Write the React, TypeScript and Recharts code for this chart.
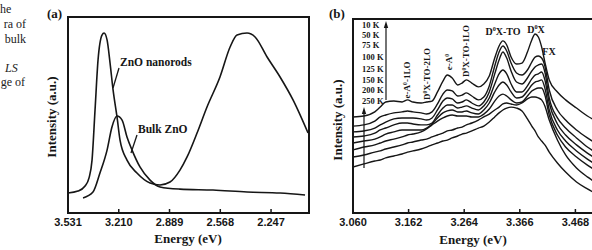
import { LineChart, Line, XAxis, YAxis, ReferenceArea } from "recharts"

// (a) room-temperature PL: nanorods vs bulk
const nanorodEnergy = [3.531, 3.468, 3.423, 3.398, 3.379, 3.36, 3.341, 3.316, 3.303, 3.284, 3.265, 3.246, 3.221, 3.202, 3.158, 3.095, 3.012, 2.949, 2.886, 2.823, 2.778, 2.715, 2.652, 2.57, 2.506, 2.462, 2.399, 2.348, 2.272, 2.19, 2.108, 2.013]
const nanorodIntensity = [10.2, 11.2, 13.8, 17.9, 27.0, 52.6, 78.1, 90.8, 91.8, 88.3, 76.5, 62.8, 49.0, 37.2, 27.0, 20.4, 15.3, 14.3, 15.8, 21.9, 28.6, 40.8, 54.1, 69.4, 84.7, 90.8, 91.8, 89.8, 79.6, 69.4, 57.7, 40.8]
const bulkEnergy = [3.436, 3.373, 3.329, 3.284, 3.253, 3.221, 3.189, 3.158, 3.126, 3.076, 3.012, 2.949, 2.823, 2.614, 2.399, 2.19, 2.032]
const bulkIntensity = [7.7, 10.7, 20.4, 32.1, 43.9, 49.5, 47.4, 38.8, 32.1, 23.5, 16.8, 13.3, 12.2, 11.7, 10.7, 10.2, 9.2]
const ticksA = [3.531, 3.21, 2.889, 2.568, 2.247]

// (b) temperature-dependent PL, 10 K .. 250 K
const energyB = [3.06, 3.08, 3.1, 3.11, 3.12, 3.135, 3.15, 3.16, 3.17, 3.185, 3.195, 3.205, 3.215, 3.225, 3.233, 3.242, 3.252, 3.26, 3.268, 3.278, 3.29, 3.3, 3.31, 3.32, 3.328, 3.335, 3.342, 3.35, 3.36, 3.37, 3.38, 3.388, 3.394, 3.4, 3.406, 3.412, 3.42, 3.435, 3.45, 3.47, 3.49, 3.51]
const pl10K = [49.5, 50.0, 52.1, 54.6, 57.2, 57.7, 57.2, 58.3, 57.2, 56.7, 57.2, 57.7, 62.4, 68.0, 71.1, 69.6, 66.0, 67.0, 68.6, 67.0, 65.0, 66.5, 70.6, 79.9, 86.1, 88.7, 86.6, 80.4, 76.8, 77.3, 83.0, 89.2, 92.3, 90.7, 85.6, 77.8, 68.6, 62.4, 58.3, 54.1, 50.0, 46.9]
const pl50K = [44.8, 45.4, 47.4, 49.5, 50.5, 51.6, 52.1, 52.6, 52.1, 51.6, 51.0, 52.1, 56.2, 61.3, 63.4, 62.9, 60.3, 60.8, 61.9, 60.3, 58.3, 59.8, 65.5, 75.8, 83.0, 86.1, 83.5, 77.3, 72.2, 71.1, 73.7, 77.8, 80.4, 80.9, 79.9, 75.8, 63.4, 53.1, 47.9, 42.8, 38.7, 35.1]
const pl75K = [41.8, 42.3, 43.8, 45.4, 46.9, 48.5, 49.0, 49.0, 49.0, 48.5, 47.9, 49.0, 53.1, 57.7, 59.3, 58.8, 56.7, 57.2, 58.3, 56.7, 55.2, 57.2, 62.4, 71.7, 78.9, 83.0, 79.9, 73.2, 67.5, 66.5, 69.6, 73.2, 75.3, 76.3, 76.8, 72.7, 59.3, 49.0, 43.8, 38.7, 34.0, 30.4]
const pl100K = [39.2, 39.7, 41.2, 42.8, 43.8, 45.4, 46.4, 46.4, 45.9, 45.4, 45.4, 46.4, 50.5, 54.1, 55.7, 55.7, 54.1, 54.6, 55.2, 54.1, 53.1, 55.2, 59.3, 66.5, 71.7, 73.7, 71.7, 66.5, 62.4, 62.4, 65.5, 69.1, 71.1, 71.7, 72.7, 68.6, 56.7, 45.9, 40.2, 35.1, 30.9, 27.3]
const pl125K = [36.1, 37.1, 38.1, 39.2, 40.7, 41.8, 42.8, 42.8, 42.8, 42.8, 43.8, 45.9, 49.0, 51.6, 52.6, 53.1, 52.1, 52.1, 52.6, 51.6, 51.0, 53.1, 56.7, 62.4, 66.0, 67.5, 66.0, 62.4, 59.3, 59.8, 62.9, 66.0, 67.5, 68.0, 68.6, 64.4, 53.1, 42.8, 37.1, 32.0, 27.8, 24.2]
const pl150K = [32.5, 34.0, 35.1, 36.1, 37.1, 38.1, 39.2, 40.2, 40.7, 41.8, 43.3, 45.4, 47.4, 49.0, 50.0, 50.5, 50.0, 50.0, 50.0, 49.5, 49.5, 51.0, 53.6, 57.7, 60.3, 61.3, 60.3, 58.3, 56.7, 57.2, 60.3, 62.9, 63.9, 64.4, 64.4, 60.8, 50.5, 40.2, 34.0, 28.9, 24.7, 21.1]
const pl200K = [28.9, 29.9, 31.4, 32.0, 33.0, 34.0, 35.1, 36.1, 36.6, 37.6, 38.1, 39.2, 40.2, 41.2, 42.3, 42.8, 43.8, 44.3, 45.4, 46.4, 47.9, 49.5, 51.0, 53.1, 54.6, 56.2, 56.7, 56.2, 55.7, 56.7, 58.8, 59.8, 59.8, 59.3, 58.3, 55.2, 47.9, 37.6, 29.9, 23.2, 18.6, 14.9]
const pl250K = [23.7, 25.3, 26.8, 27.3, 28.4, 29.4, 30.4, 31.4, 32.0, 33.0, 34.0, 35.1, 36.1, 37.1, 37.6, 38.7, 39.7, 40.7, 41.2, 42.3, 43.8, 44.8, 46.9, 49.5, 51.6, 53.1, 54.1, 54.6, 54.1, 52.6, 48.5, 44.8, 42.3, 39.2, 37.1, 35.1, 31.4, 25.8, 21.1, 16.0, 12.4, 9.3]
const seriesB = [pl10K, pl50K, pl75K, pl100K, pl125K, pl150K, pl200K, pl250K]
const tempLabels = ["10 K", "50 K", "75 K", "100 K", "125 K", "150 K", "200 K", "250 K"]
const ticksB = [3.06, 3.162, 3.264, 3.366, 3.468]
const minorTicksB = [0, 5, 10, 15, 20, 25, 30, 35, 40, 45, 50, 55, 60, 65, 70, 75, 80, 85, 90, 95, 100]

const nanorodData = nanorodEnergy.map((e, i) => ({ energy: e, value: nanorodIntensity[i] }))
const bulkData = bulkEnergy.map((e, i) => ({ energy: e, value: bulkIntensity[i] }))
const rowsB = energyB.map((e, i) => {
  const row: Record<string, number> = { energy: e }
  seriesB.forEach((s, k) => { row[`t${k}`] = s[i] })
  return row
})

const INK = "#161616"
const tickStyle = { fontSize: 11, fontWeight: 700, fill: INK, fontFamily: "Liberation Sans, Arial, sans-serif" }
const serif = "Liberation Serif, Times New Roman, serif"

// label with a superscript zero after the first letter (D⁰X, e-A⁰ ...)
function Sup({ pre, post, size }: { pre: string; post: string; size: number }) {
  const d = size * 0.38
  return (
    <>
      {pre}
      <tspan fontSize={size * 0.62} dy={-d}>0</tspan>
      <tspan dy={d}>{post}</tspan>
    </>
  )
}

function Annotations() {
  const lab = { style: { fontFamily: serif, fontWeight: 700 }, fill: INK }
  const rot = (x: number, y: number) => `rotate(-90 ${x} ${y})`
  return (
    <svg width={592} height={250} style={{ position: "absolute", left: 0, top: 0, pointerEvents: "none" }}>
      {/* caption fragments at the page edge */}
      <g style={{ fontFamily: serif, fontSize: 12 }} fill="#222">
        <text x={0} y={13}>he</text>
        <text x={26} y={28} textAnchor="end">ra of</text>
        <text x={26} y={43} textAnchor="end">bulk</text>
        <text x={5} y={72} fontStyle="italic">LS</text>
        <text x={25} y={86} textAnchor="end">ge of</text>
      </g>

      {/* panel (a) */}
      <text x={47} y={18} {...lab} fontSize={13}>(a)</text>
      <text x={120} y={66} {...lab} fontSize={11.5}>ZnO nanorods</text>
      <line x1={119} y1={68} x2={113} y2={88} stroke={INK} strokeWidth={1.3} />
      <text x={138} y={133} {...lab} fontSize={11.5}>Bulk ZnO</text>
      <line x1={137} y1={135} x2={131} y2={153} stroke={INK} strokeWidth={1.3} />
      <text x={56} y={117} {...lab} fontSize={13} textAnchor="middle" transform={rot(56, 117)}>Intensity (a.u.)</text>
      <text x={188} y={243} {...lab} fontSize={13} textAnchor="middle">Energy (eV)</text>

      {/* panel (b) */}
      <text x={329} y={18} {...lab} fontSize={13}>(b)</text>
      <text x={342} y={120} {...lab} fontSize={13} textAnchor="middle" transform={rot(342, 120)}>Intensity (a.u.)</text>
      <text x={473} y={244} {...lab} fontSize={13} textAnchor="middle">Energy (eV)</text>
      {tempLabels.map((t, i) => (
        <text key={t} x={362} y={[28, 38, 48, 60, 72, 83, 93, 104][i]} {...lab} fontSize={8.5}>{t}</text>
      ))}
      <line x1={386} y1={100} x2={386} y2={26} stroke={INK} strokeWidth={1.2} />
      <polygon points="386,21 383.8,28 388.2,28" fill={INK} />
      <line x1={364} y1={168} x2={364} y2={112} stroke={INK} strokeWidth={1.2} />
      <polygon points="364,107 361.8,114 366.2,114" fill={INK} />

      <text x={410} y={80} {...lab} fontSize={9} textAnchor="middle" transform={rot(410, 80)}><Sup pre="e-A" post="-1LO" size={9} /></text>
      <text x={430} y={74} {...lab} fontSize={9} textAnchor="middle" transform={rot(430, 74)}><Sup pre="D" post="X-TO-2LO" size={9} /></text>
      <text x={452} y={62} {...lab} fontSize={9} textAnchor="middle" transform={rot(452, 62)}><Sup pre="e-A" post="" size={9} /></text>
      <text x={469} y={51} {...lab} fontSize={9} textAnchor="middle" transform={rot(469, 51)}><Sup pre="D" post="X-TO-1LO" size={9} /></text>
      <text x={503} y={35} {...lab} fontSize={10} textAnchor="middle"><Sup pre="D" post="X-TO" size={10} /></text>
      <text x={536} y={33} {...lab} fontSize={10} textAnchor="middle"><Sup pre="D" post="X" size={10} /></text>
      <text x={549} y={55} {...lab} fontSize={10} textAnchor="middle">FX</text>
    </svg>
  )
}

export default function App() {
  return (
    <div style={{ position: "absolute", left: 0, top: 0, width: 592, height: 250, overflow: "hidden", background: "#fff" }}>
      <div style={{ position: "absolute", left: 0, top: 0 }}>
        <LineChart width={330} height={250} margin={{ top: 17, right: 21, bottom: 7, left: 68 }}>
          <XAxis
            type="number"
            dataKey="energy"
            domain={[2.007, 3.531]}
            reversed
            allowDataOverflow
            ticks={ticksA}
            tickFormatter={(v: number) => v.toFixed(3)}
            tick={tickStyle}
            tickSize={-4}
            tickMargin={9}
            height={30}
            axisLine={{ stroke: INK, strokeWidth: 2 }}
            tickLine={{ stroke: INK, strokeWidth: 1.5 }}
          />
          <YAxis type="number" domain={[0, 100]} hide width={0} />
          <ReferenceArea x1={2.007} x2={3.531} y1={0} y2={100} fill="none" stroke={INK} strokeWidth={2} />
          <Line data={nanorodData} dataKey="value" type="monotone" stroke={INK} strokeWidth={1.6} dot={false} isAnimationActive={false} />
          <Line data={bulkData} dataKey="value" type="monotone" stroke={INK} strokeWidth={1.6} dot={false} isAnimationActive={false} />
        </LineChart>
      </div>
      <div style={{ position: "absolute", left: 300, top: 0 }}>
        <LineChart width={340} height={250} data={rowsB} margin={{ top: 19, right: 9, bottom: 7, left: 53 }}>
          <XAxis
            type="number"
            dataKey="energy"
            domain={[3.06, 3.57]}
            allowDataOverflow
            ticks={ticksB}
            tickFormatter={(v: number) => v.toFixed(3)}
            tick={tickStyle}
            tickSize={-4}
            tickMargin={9}
            height={30}
            axisLine={{ stroke: INK, strokeWidth: 2 }}
            tickLine={{ stroke: INK, strokeWidth: 1.5 }}
          />
          <YAxis
            type="number"
            domain={[0, 100]}
            width={0}
            ticks={minorTicksB}
            tick={false}
            tickSize={-3}
            axisLine={{ stroke: INK, strokeWidth: 2.5 }}
            tickLine={{ stroke: INK, strokeWidth: 1 }}
          />
          <ReferenceArea x1={3.06} x2={3.57} y1={0} y2={100} fill="none" stroke={INK} strokeWidth={2} />
          {seriesB.map((_, k) => (
            <Line key={k} dataKey={`t${k}`} type="monotone" stroke={INK} strokeWidth={1.4} dot={false} isAnimationActive={false} />
          ))}
        </LineChart>
      </div>
      <Annotations />
    </div>
  )
}
